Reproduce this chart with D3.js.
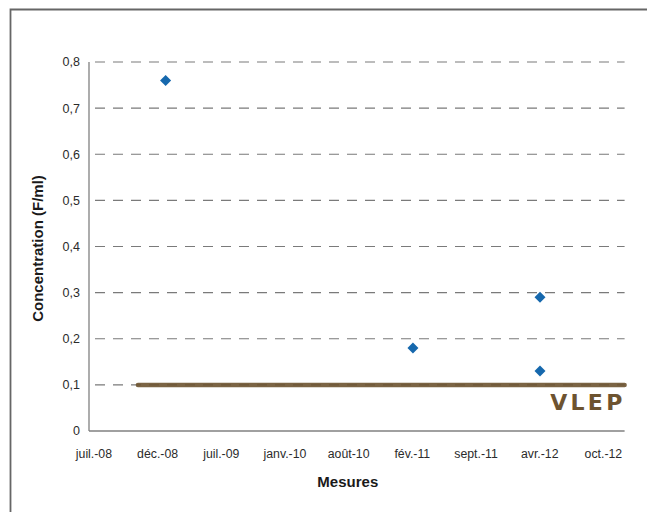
<!DOCTYPE html>
<html><head><meta charset="utf-8">
<script src="https://cdn.jsdelivr.net/npm/d3@7"></script>
<style>
html,body{margin:0;padding:0;background:#fff;}
svg{display:block;font-family:"Liberation Sans",Arial,sans-serif;}
</style></head>
<body><svg id="c" width="647" height="512"></svg>
<script>
// ---- data ----
const xDomain = ["2008-04-10", "2013-01-15"];
const xTickLabels = ["juil.-08","déc.-08","juil.-09","janv.-10","août-10","fév.-11","sept.-11","avr.-12","oct.-12"];
const xTickStart = "2008-04-26";
const xTickStepDays = 207;
const pointDates = ["2008-12-15","2011-02-27","2012-04-15","2012-04-15"];
const pointValues = [0.76, 0.18, 0.29, 0.13];
const yTicks = [0,0.1,0.2,0.3,0.4,0.5,0.6,0.7,0.8];
const vlepDates = ["2008-09-16","2013-01-15"];
const vlepValue = 0.1;
const vlepLabel = "VLEP";
const xTitle = "Mesures";
const yTitle = "Concentration (F/ml)";

// ---- layout ----
const svg = d3.select("#c");
const m = {left: 89, top: 62};
const W = 535.6, H = 369;
const parse = d3.utcParse("%Y-%m-%d");
const x = d3.scaleUtc().domain(xDomain.map(parse)).range([0, W]);
const y = d3.scaleLinear().domain([0, 0.8]).range([H, 0]);
const fmtY = v => v === 0 ? "0" : d3.format(".1f")(v).replace(".", ",");

// frame
svg.append("path").attr("d","M10.5,512 V9.5 H647")
  .attr("fill","none").attr("stroke","#666").attr("stroke-width",1.8);

const g = svg.append("g").attr("transform",`translate(${m.left},${m.top})`);

// gridlines
g.append("g").selectAll("line").data(yTicks.filter(d=>d>0)).join("line")
  .attr("x1",0).attr("x2",W).attr("y1",d=>y(d)).attr("y2",d=>y(d))
  .attr("stroke","#7a7a7a").attr("stroke-width",1.1)
  .attr("stroke-dasharray","10,8").attr("stroke-dashoffset",12);

// VLEP line
g.append("line")
  .attr("x1",x(parse(vlepDates[0]))).attr("x2",x(parse(vlepDates[1])))
  .attr("y1",y(vlepValue)).attr("y2",y(vlepValue))
  .attr("stroke","#6d5330").attr("stroke-width",4.5).attr("stroke-opacity",0.9)
  .attr("stroke-linecap","round");

// axes lines
g.append("line").attr("x1",0).attr("x2",0).attr("y1",0).attr("y2",H)
  .attr("stroke","#808080").attr("stroke-width",1.3);
g.append("line").attr("x1",0).attr("x2",W).attr("y1",H).attr("y2",H)
  .attr("stroke","#808080").attr("stroke-width",1.3);

// y tick labels
g.append("g").selectAll("text").data(yTicks).join("text")
  .attr("x",-9).attr("y",d=>y(d)).attr("dy","0.35em")
  .attr("text-anchor","end").attr("font-size",12.5).attr("fill","#2b2b2b")
  .text(fmtY);

// x tick labels
const t0 = parse(xTickStart);
const tickDates = xTickLabels.map((_,i)=> d3.utcDay.offset(t0, i*xTickStepDays));
g.append("g").selectAll("text").data(xTickLabels).join("text")
  .attr("x",(d,i)=>x(tickDates[i])).attr("y",H+27)
  .attr("text-anchor","middle").attr("font-size",12.3).attr("fill","#2b2b2b")
  .text(d=>d);

// points (diamonds)
const pts = pointDates.map((d,i)=>({d:parse(d), v:pointValues[i]}));
g.append("g").selectAll("path").data(pts).join("path")
  .attr("transform",d=>`translate(${x(d.d)},${y(d.v)}) rotate(45)`)
  .attr("d","M-3.9,-3.9H3.9V3.9H-3.9Z")
  .attr("fill","#1668ad");

// VLEP label
g.append("text").attr("x",x(parse(vlepDates[1])) + 1).attr("y",y(vlepValue)+25.5)
  .attr("text-anchor","end").attr("font-size",22).attr("font-weight","bold")
  .attr("font-family","'DejaVu Sans',sans-serif")
  .attr("letter-spacing",3.3).attr("fill","#6d5330").text(vlepLabel);

// titles
svg.append("text").attr("x",m.left+W/2 - 9).attr("y",487)
  .attr("text-anchor","middle").attr("font-size",15).attr("font-weight","bold")
  .attr("fill","#1a1a1a").text(xTitle);
svg.append("text").attr("transform",`translate(43,${m.top+H/2+2}) rotate(-90)`)
  .attr("text-anchor","middle").attr("font-size",15).attr("font-weight","bold")
  .attr("fill","#1a1a1a").text(yTitle);
</script></body></html>
